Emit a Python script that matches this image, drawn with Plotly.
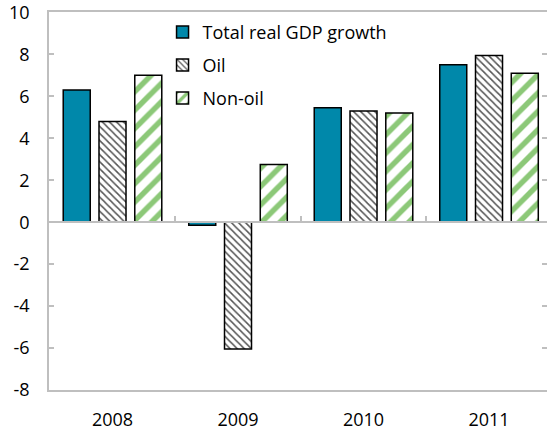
import plotly.graph_objects as go

years = ["2008", "2009", "2010", "2011"]
total_gdp = [6.3, -0.15, 5.45, 7.5]
oil = [4.8, -6.05, 5.3, 7.95]
non_oil = [7.0, 2.75, 5.2, 7.1]
y_tick_vals = [-8, -6, -4, -2, 0, 2, 4, 6, 8, 10]
y_tick_labels = ["-8", "-6", "-4", "-2", "0", "2", "4", "6", "8", "10"]

FONT = "Open Sans"
GRAY = "#bfbfbf"
TEAL = "#0088aa"
GREEN = "#8cc878"

fig = go.Figure()
fig.add_trace(go.Bar(
    x=years, y=total_gdp, name="Total real GDP growth", legendgroup="a",
    marker=dict(color=TEAL, line=dict(color="black", width=1.5)),
))
fig.add_trace(go.Bar(
    x=years, y=oil, name="Oil", legendgroup="b",
    marker=dict(color="white", line=dict(color="black", width=1.5),
                pattern=dict(shape="\\", size=5, solidity=0.3, fgopacity=1,
                             fgcolor="#555555", bgcolor="white", fillmode="overlay")),
))
fig.add_trace(go.Bar(
    x=years, y=non_oil, name="Non-oil", legendgroup="c",
    marker=dict(color="white", line=dict(color="black", width=1.5),
                pattern=dict(shape="/", size=13, solidity=0.42, fgopacity=1,
                             fgcolor=GREEN, bgcolor="white", fillmode="overlay")),
))
# invisible helper trace to carry the zero-line category axis and right axis
fig.add_trace(go.Scatter(x=years, y=[None] * len(years), xaxis="x2", yaxis="y2",
                         showlegend=False, hoverinfo="skip"))

xr = [-0.506, 3.462]
yr = [-8, 10.02]
fig.update_layout(
    width=547, height=432,
    margin=dict(l=49, r=0, t=12, b=42),
    paper_bgcolor="white", plot_bgcolor="white",
    font=dict(family=FONT, size=18, color="black"),
    barmode="group", bargap=0.145, bargroupgap=0.245,
    showlegend=True,
    legend=dict(x=0.228, y=0.995, xanchor="left", yanchor="top",
                traceorder="grouped", tracegroupgap=6.5,
                font=dict(family=FONT, size=18, color="black"),
                bgcolor="rgba(0,0,0,0)", itemclick=False),
    xaxis=dict(type="category", categoryorder="array", categoryarray=years,
               range=xr, showline=True, linecolor=GRAY, linewidth=1.5, mirror=True,
               ticks="", showgrid=False, zeroline=False, ticklabelstandoff=13,
               automargin=False, ticklabeloverflow="allow",
               tickfont=dict(family=FONT, size=18, color="black")),
    xaxis2=dict(type="category", categoryorder="array", categoryarray=years,
                range=xr, overlaying="x", anchor="free", position=8 / 18.02,
                showline=True, linecolor=GRAY, linewidth=1.5, automargin=False,
                ticks="inside", tickson="boundaries", ticklen=5, tickcolor=GRAY,
                tickwidth=1.5, showticklabels=False, showgrid=False, zeroline=False),
    yaxis=dict(range=yr, tickvals=y_tick_vals, ticktext=y_tick_labels,
               showline=True, linecolor=GRAY, linewidth=1.5, automargin=False,
               ticks="inside", ticklen=5, tickcolor=GRAY, tickwidth=1.5,
               showgrid=False, zeroline=False, ticklabelstandoff=14,
               ticklabeloverflow="allow",
               tickfont=dict(family=FONT, size=18, color="black")),
    yaxis2=dict(range=yr, tickvals=y_tick_vals, overlaying="y", side="right",
                anchor="x", showline=False, ticks="inside", ticklen=5, tickcolor=GRAY,
                automargin=False,
                tickwidth=1.5, showticklabels=False, showgrid=False, zeroline=False),
)

fig.write_html("out.html", config={"displayModeBar": False},
               post_script="document.body.style.margin='0';document.body.style.overflow='hidden';")
